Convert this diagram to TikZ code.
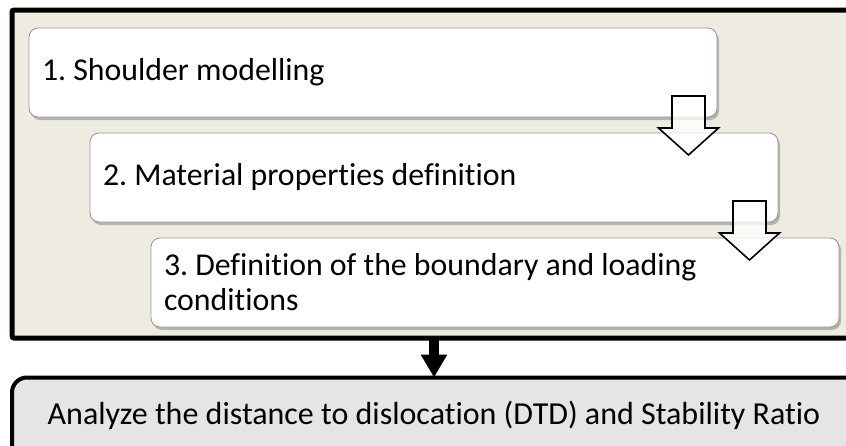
\documentclass[tikz,border=0pt]{standalone}
\usepackage{fontspec}
\setmainfont{Carlito}[Ligatures=NoCommon]
\usetikzlibrary{calc,shadows,arrows.meta}
\definecolor{framefill}{RGB}{238,236,225}
\definecolor{resfill}{RGB}{229,229,229}
\definecolor{boxline}{RGB}{150,150,150}
\frenchspacing
\tikzset{
  stepbox/.style={draw=boxline, line width=0.8pt, fill=white, rounded corners=9pt,
    minimum width=688pt, minimum height=89pt, text width=662pt, inner xsep=13pt,
    align=flush left, anchor=north west, outer sep=0pt,
    drop shadow={shadow xshift=2pt, shadow yshift=-3pt, opacity=0.35, fill=black!70},
    font=\fontsize{31.8}{35}\selectfont},
  hollow/.style={draw=black, line width=1.6pt, fill=white, fill opacity=0.75, line join=miter},
  framebox/.style={draw=black, line width=5pt, fill=framefill, minimum width=840pt,
    minimum height=328pt, anchor=north west, outer sep=0pt, rounded corners=2pt},
  resbox/.style={draw=black, line width=4pt, fill=resfill, minimum width=860pt,
    minimum height=90pt, anchor=north west, outer sep=0pt, rounded corners=15pt},
  restext/.style={font=\fontsize{32}{36}\selectfont, anchor=base, inner sep=0pt},
  blackarrow/.style={line width=10pt, -{Triangle[width=25pt,length=23pt]}}
}
\begin{document}
\begin{tikzpicture}[x=1pt,y=-1pt]
\useasboundingbox (0,0) rectangle (846,445);
\clip (0,0) rectangle (846,445);
\fill[white] (0,0) rectangle (846,445);
\node[framebox] (frame) at (12,10) {};
\node[stepbox] (b1) at (29,28) {1. Shoulder modelling};
\node[stepbox] (b2) at (90,133) {2. Material properties definition};
\node[stepbox] (b3) at (151,238) {3. Definition of the boundary and loading\\conditions};
\coordinate (a1) at ($(b1.south east)+(-28.5,-21)$);
\coordinate (a2) at ($(b2.south east)+(-28.5,-21)$);
\draw[hollow, shift={(a1)}] (-16.5,0) -- (16.5,0) -- (16.5,32) -- (30,32) -- (0,59) -- (-30,32) -- (-16.5,32) -- cycle;
\draw[hollow, shift={(a2)}] (-16.5,0) -- (16.5,0) -- (16.5,32) -- (30,32) -- (0,59) -- (-30,32) -- (-16.5,32) -- cycle;
\node[resbox] (res) at (12,377.5) {};
\node[restext] (rt) at (434,424) {Analyze the distance to dislocation (DTD) and Stability Ratio};
\draw[blackarrow] (frame.south -| rt.base) -- (res.north -| rt.base);
\end{tikzpicture}
\end{document}
